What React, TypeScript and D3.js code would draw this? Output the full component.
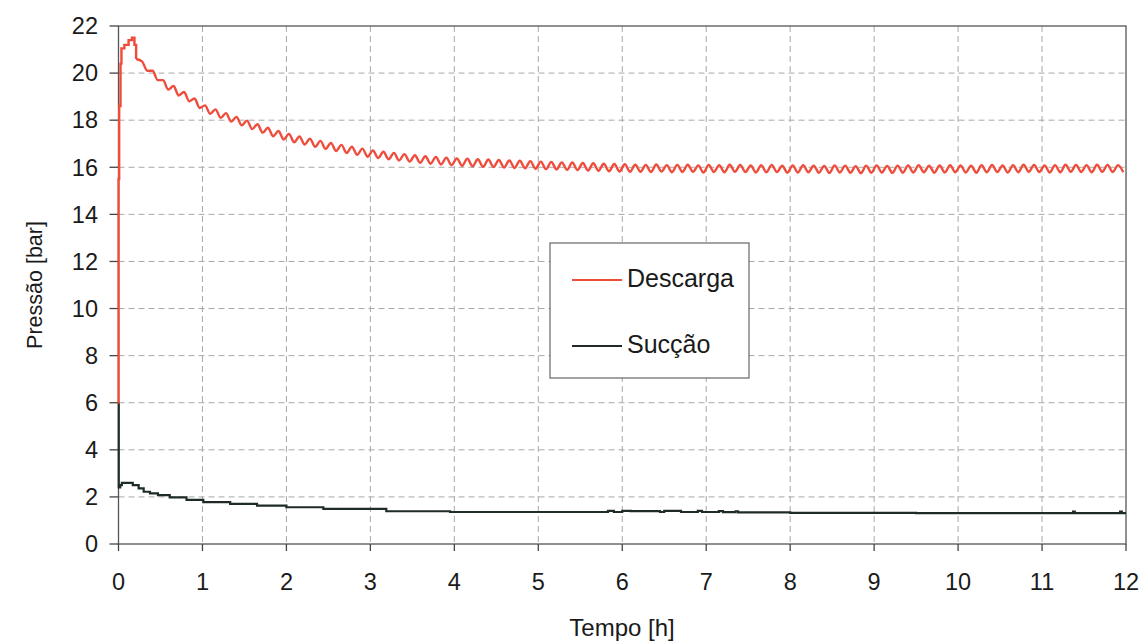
import React from "react";
import * as d3 from "d3";

// ---------- data ----------
const xTicks = [0, 1, 2, 3, 4, 5, 6, 7, 8, 9, 10, 11, 12];
const yTicks = [0, 2, 4, 6, 8, 10, 12, 14, 16, 18, 20, 22];

// Descarga: start-up transient (time h, pressure bar)
const descargaStartT = [0, 0.001, 0.008, 0.024, 0.035, 0.07, 0.12, 0.16, 0.19, 0.21];
const descargaStartV = [6.0, 15.5, 18.6, 20.4, 21.05, 21.2, 21.4, 21.5, 21.2, 20.6];
// Descarga: oscillating values read every 1/16 h from 0.25 h to 12 h
const descargaCycleStart = 0.25;
const descargaCycleStep = 0.0625;
const descargaCycleV = [
  20.5, 20.1, 20.1, 19.7, 19.7, 19.3, 19.45, 19.05, 19.2, 18.8, 18.92, 18.52,
  18.63, 18.27, 18.46, 18.1, 18.3, 17.94, 18.14, 17.78, 17.98, 17.62, 17.83, 17.47,
  17.68, 17.32, 17.54, 17.18, 17.42, 17.06, 17.31, 16.97, 17.21, 16.87, 17.12, 16.78,
  17.03, 16.69, 16.95, 16.61, 16.87, 16.53, 16.79, 16.45, 16.71, 16.39, 16.66, 16.34,
  16.61, 16.29, 16.56, 16.24, 16.51, 16.19, 16.47, 16.15, 16.44, 16.12, 16.41, 16.09,
  16.38, 16.06, 16.36, 16.04, 16.34, 16.02, 16.33, 16.01, 16.31, 15.99, 16.29, 15.97,
  16.28, 15.96, 16.26, 15.94, 16.24, 15.92, 16.23, 15.91, 16.21, 15.89, 16.2, 15.88,
  16.18, 15.86, 16.17, 15.85, 16.15, 15.83, 16.14, 15.82, 16.13, 15.81,
  16.11, 15.81, 16.1, 15.8, 16.12, 15.82, 16.09, 15.79, 16.1, 15.8, 16.11, 15.81,
  16.08, 15.78, 16.1, 15.8, 16.09, 15.79, 16.11, 15.81, 16.1, 15.8, 16.08, 15.78,
  16.09, 15.79, 16.1, 15.8, 16.07, 15.77, 16.08, 15.78, 16.09, 15.79, 16.07, 15.77,
  16.06, 15.76, 16.08, 15.78, 16.07, 15.77, 16.05, 15.75, 16.07, 15.77, 16.08, 15.78,
  16.06, 15.76, 16.07, 15.77, 16.08, 15.78, 16.09, 15.79, 16.07, 15.77, 16.08, 15.78,
  16.09, 15.79, 16.08, 15.78, 16.07, 15.77, 16.09, 15.79, 16.1, 15.8, 16.08, 15.78,
  16.09, 15.79, 16.11, 15.81, 16.1, 15.8, 16.08, 15.78, 16.09, 15.79, 16.11, 15.81,
  16.1, 15.8, 16.09, 15.79, 16.11, 15.81, 16.1, 15.8, 16.09, 15.79,
];

// Sucção (time h, pressure bar) – stepped signal
const succaoT = [
  0, 0.003, 0.02, 0.04, 0.17, 0.24, 0.3, 0.375, 0.47, 0.61, 0.81, 1.01, 1.33, 1.65,
  2.0, 2.44, 3.19, 3.95, 5.83, 5.9, 6.0, 6.1, 6.45, 6.5, 6.7, 6.9, 6.95, 7.15, 7.2,
  7.35, 7.38, 8.0, 9.5, 11.37, 11.39, 11.93, 11.95, 12,
];
const succaoV = [
  6.0, 2.4, 2.5, 2.6, 2.5, 2.36, 2.22, 2.15, 2.08, 1.98, 1.87, 1.78, 1.7, 1.63,
  1.56, 1.49, 1.39, 1.36, 1.41, 1.36, 1.41, 1.4, 1.36, 1.41, 1.36, 1.41, 1.36, 1.4, 1.35,
  1.39, 1.34, 1.32, 1.31, 1.38, 1.31, 1.38, 1.31, 1.31,
];

const seriesNames = ["Descarga", "Sucção"];
const seriesColors = ["#ef4c3b", "#1f2b27"];

// ---------- layout ----------
const W = 1143;
const H = 642;
const plot = { left: 118.5, right: 1126, top: 26, bottom: 544 };

export default function App() {
  const x = d3.scaleLinear().domain([0, 12]).range([plot.left, plot.right]);
  const y = d3.scaleLinear().domain([0, 22]).range([plot.bottom, plot.top]);

  const startPts: [number, number][] = descargaStartT.map((t, i) => [t, descargaStartV[i]]);
  const cyclePts: [number, number][] = [[descargaStartT[descargaStartT.length - 1], descargaStartV[descargaStartV.length - 1]]];
  descargaCycleV.forEach((v, i) => cyclePts.push([descargaCycleStart + i * descargaCycleStep + 0.03, v]));
  const succaoPts: [number, number][] = succaoT.map((t, i) => [t, succaoV[i]]);

  const stepLine = d3
    .line<[number, number]>()
    .x((d) => x(d[0]))
    .y((d) => y(d[1]))
    .curve(d3.curveStepAfter);
  const waveLine = d3
    .line<[number, number]>()
    .x((d) => x(Math.min(d[0], 12)))
    .y((d) => y(d[1]))
    .curve(d3.curveMonotoneX);

  const font = "'Liberation Sans', Arial, sans-serif";
  const grid = "#a8a8a8";

  const legend = { x: 550, y: 243, w: 199, h: 135 };

  return (
    <svg
      width={W}
      height={H}
      style={{ position: "absolute", left: 0, top: 0, background: "#fff" }}
      fontFamily={font}
    >
      <rect x={0} y={0} width={W} height={H} fill="#fff" />
      {/* grid */}
      {xTicks.slice(1, -1).map((t) => (
        <line key={"gx" + t} x1={x(t)} x2={x(t)} y1={plot.top} y2={plot.bottom}
          stroke={grid} strokeWidth={1} strokeDasharray="6,4" />
      ))}
      {yTicks.slice(1, -1).map((t) => (
        <line key={"gy" + t} x1={plot.left} x2={plot.right} y1={y(t)} y2={y(t)}
          stroke={grid} strokeWidth={1} strokeDasharray="6,4" />
      ))}
      {/* frame */}
      <rect x={plot.left} y={plot.top} width={plot.right - plot.left} height={plot.bottom - plot.top}
        fill="none" stroke="#555" strokeWidth={1.3} />
      {/* ticks */}
      {xTicks.map((t) => (
        <g key={"xt" + t}>
          <line x1={x(t)} x2={x(t)} y1={plot.bottom} y2={plot.bottom + 7} stroke="#444" strokeWidth={1.3} />
          <text x={x(t)} y={590} textAnchor="middle" fontSize={23.5} fill="#1a1a1a">{t}</text>
        </g>
      ))}
      {yTicks.map((t) => (
        <g key={"yt" + t}>
          <line x1={plot.left - 9} x2={plot.left} y1={y(t)} y2={y(t)} stroke="#444" strokeWidth={1.3} />
          <text x={98} y={y(t) + 8.3} textAnchor="end" fontSize={23.5} fill="#1a1a1a">{t}</text>
        </g>
      ))}
      {/* series */}
      <path d={stepLine(succaoPts) || ""} fill="none" stroke={seriesColors[1]} strokeWidth={2.2} />
      <path d={stepLine(startPts) || ""} fill="none" stroke={seriesColors[0]} strokeWidth={2.4} />
      <path d={waveLine(cyclePts) || ""} fill="none" stroke={seriesColors[0]} strokeWidth={2.4} />
      {/* axis titles */}
      <text x={622} y={636} textAnchor="middle" fontSize={24} fill="#1a1a1a">Tempo [h]</text>
      <text transform={`translate(42,285) rotate(-90)`} textAnchor="middle" fontSize={21.5} fill="#1a1a1a">
        Pressão [bar]
      </text>
      {/* legend */}
      <rect x={legend.x} y={legend.y} width={legend.w} height={legend.h} fill="#fff" stroke="#666" strokeWidth={1.2} />
      {seriesNames.map((n, i) => (
        <g key={n}>
          <line x1={572} x2={622} y1={280 + i * 66} y2={280 + i * 66} stroke={seriesColors[i]} strokeWidth={2} />
          <text x={627} y={287 + i * 66} fontSize={25} fill="#1a1a1a">{n}</text>
        </g>
      ))}
    </svg>
  );
}
